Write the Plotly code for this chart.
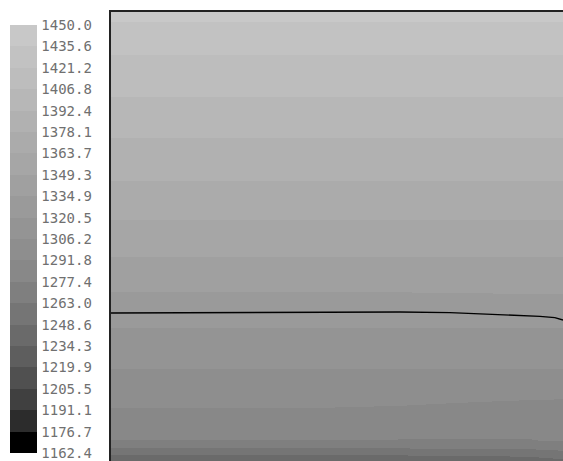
import plotly.graph_objects as go

# ---- data ----
# colour-bar level labels (bottom -> top)
level_labels = ["1162.4", "1176.7", "1191.1", "1205.5", "1219.9", "1234.3", "1248.6",
                "1263.0", "1277.4", "1291.8", "1306.2", "1320.5", "1334.9", "1349.3",
                "1363.7", "1378.1", "1392.4", "1406.8", "1421.2", "1435.6", "1450.0"]

# grid of the field (normalised width / height of the domain)
x_pos = [0.0, 0.418, 0.639, 0.816, 0.927, 1.0]
y_pos = [0.0, 0.0134, 0.0290, 0.0468, 0.1180, 0.2071, 0.2962, 0.3764, 0.4543,
         0.5367, 0.6258, 0.7194, 0.8107, 0.9042, 0.9777, 1.0]
temperature = [
    [1238.0, 1238.0, 1238.0, 1239.0, 1241.0, 1245.0],
    [1248.6, 1248.6, 1248.6, 1249.5, 1251.0, 1255.0],
    [1263.0, 1263.0, 1263.0, 1263.5, 1264.5, 1267.0],
    [1277.4, 1277.4, 1277.0, 1276.8, 1277.0, 1279.0],
    [1291.8, 1291.8, 1290.8, 1289.0, 1288.0, 1287.5],
    [1306.2, 1306.2, 1306.2, 1306.2, 1306.2, 1306.2],
    [1320.5, 1320.5, 1320.5, 1320.5, 1320.5, 1320.5],
    [1334.9, 1334.9, 1334.9, 1335.3, 1335.6, 1335.8],
    [1349.3, 1349.3, 1349.3, 1349.3, 1349.3, 1349.3],
    [1363.7, 1363.7, 1363.7, 1363.7, 1363.7, 1363.7],
    [1378.1, 1378.1, 1378.1, 1378.1, 1378.1, 1378.1],
    [1392.4, 1392.4, 1392.4, 1392.4, 1392.4, 1392.4],
    [1406.8, 1406.8, 1406.8, 1406.8, 1406.8, 1406.8],
    [1421.2, 1421.2, 1421.2, 1421.2, 1421.2, 1421.2],
    [1435.6, 1435.6, 1435.6, 1435.6, 1435.6, 1435.6],
    [1441.0, 1441.0, 1441.0, 1441.0, 1441.0, 1441.0],
]

# black front line
front_x = [0.0, 0.197, 0.418, 0.639, 0.750, 0.816, 0.883, 0.949, 0.982, 1.0]
front_y = [0.3296, 0.3307, 0.3318, 0.3318, 0.3303, 0.3281, 0.3252, 0.3223, 0.3192, 0.3140]

# ---- styles ----
grays = [0, 44, 64, 80, 94, 106, 117, 127, 136, 142, 148, 154, 160, 166, 171, 177,
         183, 189, 194, 200]
n = len(grays)
colorscale = []
for i, g in enumerate(grays):
    c = f"rgb({g},{g},{g})"
    colorscale.append([i / n, c])
    colorscale.append([(i + 1) / n, c])

tick_vals = [float(s) for s in level_labels]

fig = go.Figure()
fig.add_trace(go.Contour(
    x=x_pos, y=y_pos, z=temperature,
    colorscale=colorscale, zmin=tick_vals[0], zmax=tick_vals[-1], zauto=False,
    contours=dict(coloring="heatmap", showlines=False),
    line=dict(width=0),
    hoverinfo="skip",
    colorbar=dict(
        x=(10 - 111) / 452, xanchor="left", xpad=0,
        y=1 - (239 - 12) / 449, yanchor="middle", ypad=0,
        thickness=27, thicknessmode="pixels",
        len=428, lenmode="pixels",
        outlinewidth=0, ticks="outside", ticklen=2, tickcolor="rgba(0,0,0,0)",
        tickvals=tick_vals, ticktext=level_labels,
        tickfont=dict(family="DejaVu Sans Mono", size=14, color="#707070"),
    ),
))
fig.add_trace(go.Scatter(
    x=front_x, y=front_y, mode="lines",
    line=dict(color="black", width=1.3), showlegend=False, hoverinfo="skip",
))

fig.update_layout(
    width=563, height=461,
    margin=dict(l=111, r=0, t=12, b=0),
    paper_bgcolor="white", plot_bgcolor="white",
    showlegend=False,
    xaxis=dict(range=[0, 1], side="top", showline=True, linecolor="#222",
               linewidth=2, showgrid=False, zeroline=False, showticklabels=False,
               ticks=""),
    yaxis=dict(range=[0, 1], showline=True, linecolor="#222", linewidth=2,
               showgrid=False, zeroline=False, showticklabels=False, ticks=""),
)

fig.write_html("out.html")
